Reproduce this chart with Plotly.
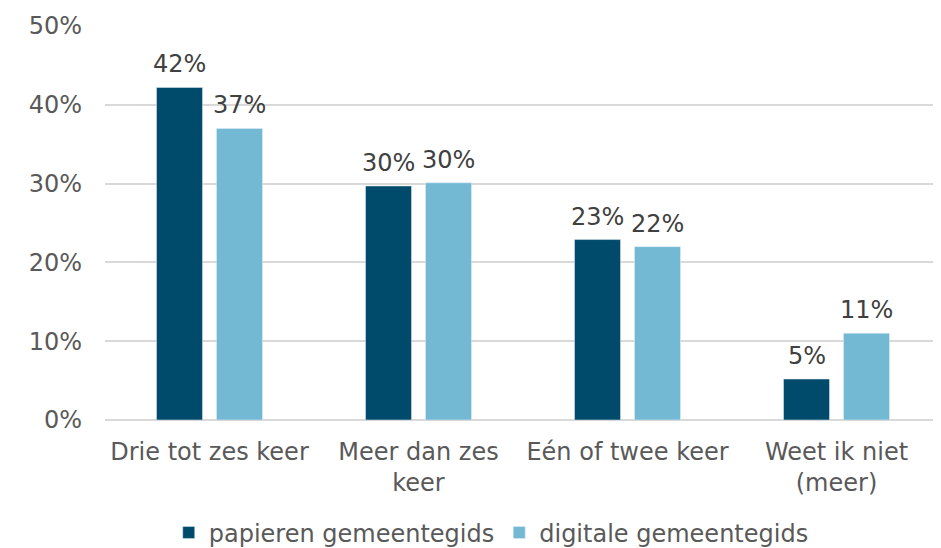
import plotly.graph_objects as go

categories = ["Drie tot zes keer", "Meer dan zes<br>keer", "Eén of twee keer", "Weet ik niet<br>(meer)"]
papieren = [42.2, 29.7, 22.9, 5.2]
digitale = [37.0, 30.1, 22.0, 11.0]
papieren_labels = ["42%", "30%", "23%", "5%"]
digitale_labels = ["37%", "30%", "22%", "11%"]

font_family = "Verdana, DejaVu Sans, sans-serif"
FS = 24

fig = go.Figure()
fig.add_trace(go.Bar(
    x=categories, y=papieren, name="papieren gemeentegids",
    marker=dict(color="#004b6b"),
))
fig.add_trace(go.Bar(
    x=categories, y=digitale, name="digitale gemeentegids",
    marker=dict(color="#74b9d4"),
))

for cat, val, lab in zip(categories, papieren, papieren_labels):
    fig.add_annotation(x=cat, y=val, text=lab, showarrow=False, xshift=-30,
                       yanchor="bottom", yshift=7,
                       font=dict(size=FS, color="#404040", family=font_family))
for cat, val, lab in zip(categories, digitale, digitale_labels):
    fig.add_annotation(x=cat, y=val, text=lab, showarrow=False, xshift=30,
                       yanchor="bottom", yshift=7,
                       font=dict(size=FS, color="#404040", family=font_family))

fig.update_layout(
    width=933, height=540,
    margin=dict(l=97, r=0, t=18, b=128, autoexpand=False),
    paper_bgcolor="white", plot_bgcolor="white",
    barmode="group", bargap=0.426, bargroupgap=0.233,
    font=dict(family=font_family, size=FS, color="#595959"),
    showlegend=True,
    legend=dict(orientation="h", x=0.462, xanchor="center",
                yref="container", y=0.028, yanchor="middle",
                font=dict(size=FS, color="#595959"), itemwidth=30,
                traceorder="normal"),
)
fig.update_xaxes(automargin=False, showgrid=False, showline=False, ticks="",
                 tickfont=dict(size=FS, color="#595959"), ticklabelstandoff=15)
fig.update_yaxes(automargin=False, range=[0, 50], dtick=10, ticksuffix="%", showgrid=True,
                 gridcolor="#d9d9d9", gridwidth=1.5, zeroline=True, zerolinecolor="#d9d9d9",
                 zerolinewidth=2, showline=False, tickfont=dict(size=FS, color="#595959"),
                 ticklabelstandoff=22)

fig.write_html("out.html")
